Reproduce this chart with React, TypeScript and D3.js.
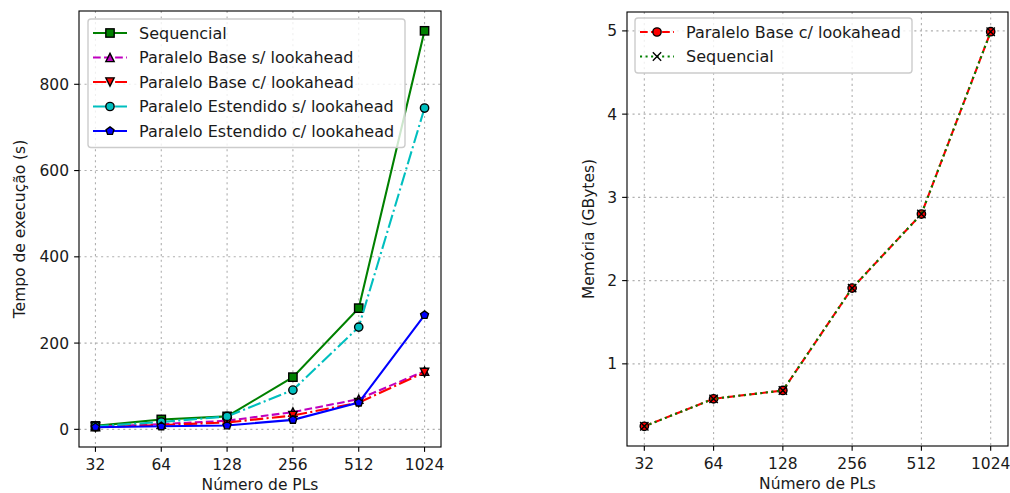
import React from "react";
import * as d3 from "d3";

// número de PLs (eixo x, escala log2)
const pls = [32, 64, 128, 256, 512, 1024];
const plLabels = ["32", "64", "128", "256", "512", "1024"];

// tempo de execução (s)
const tempoSequencial = [8, 23, 30, 121, 281, 924];
const tempoBaseSem = [6, 12, 20, 40, 70, 135];
const tempoBaseCom = [5, 10, 16, 32, 62, 132];
const tempoEstSem = [7, 17, 30, 91, 237, 745];
const tempoEstCom = [5, 7, 9, 22, 62, 265];
const tempoTicks = [0, 200, 400, 600, 800];

// memória (GBytes)
const memBaseCom = [0.25, 0.58, 0.68, 1.91, 2.8, 4.99];
const memSequencial = [0.25, 0.58, 0.68, 1.91, 2.8, 4.99];
const memTicks = [1, 2, 3, 4, 5];

const FONT = "DejaVu Sans, sans-serif";
const FS = 15.5;
const LFS = 16;
const TXT = "#1a1a1a";
const PT = 1.39;

type Series = {
  name: string;
  values: number[];
  color: string;
  dash: string | null;
  marker: string;
  face: string;
};

const DASHED = `${3.7 * 1.5 * PT},${1.6 * 1.5 * PT}`;
const DASHDOT = `${6.4 * 1.5 * PT},${1.6 * 1.5 * PT},${1 * 1.5 * PT},${1.6 * 1.5 * PT}`;
const DOTTED = `${1 * 1.5 * PT},${1.65 * 1.5 * PT}`;

const tempoSeries: Series[] = [
  { name: "Sequencial", values: tempoSequencial, color: "green", dash: null, marker: "square", face: "green" },
  { name: "Paralelo Base s/ lookahead", values: tempoBaseSem, color: "#bf00bf", dash: DASHED, marker: "tri-up", face: "#bf00bf" },
  { name: "Paralelo Base c/ lookahead", values: tempoBaseCom, color: "red", dash: DASHDOT, marker: "tri-down", face: "red" },
  { name: "Paralelo Estendido s/ lookahead", values: tempoEstSem, color: "#00bfbf", dash: DASHDOT, marker: "circle", face: "#00bfbf" },
  { name: "Paralelo Estendido c/ lookahead", values: tempoEstCom, color: "blue", dash: null, marker: "pentagon", face: "blue" },
];

const memSeries: Series[] = [
  { name: "Paralelo Base c/ lookahead", values: memBaseCom, color: "red", dash: DASHED, marker: "circle", face: "red" },
  { name: "Sequencial", values: memSequencial, color: "green", dash: DOTTED, marker: "x", face: "black" },
];

const MS = 6 * PT;

function Marker({ type, x, y, face }: { type: string; x: number; y: number; face: string }) {
  const r = MS / 2;
  const common = { fill: face, stroke: "black", strokeWidth: PT };
  if (type === "square") return <rect x={x - r} y={y - r} width={MS} height={MS} {...common} />;
  if (type === "circle") return <circle cx={x} cy={y} r={r} {...common} />;
  if (type === "tri-up")
    return <path d={`M${x},${y - r}L${x - r},${y + r}L${x + r},${y + r}Z`} {...common} />;
  if (type === "tri-down")
    return <path d={`M${x},${y + r}L${x - r},${y - r}L${x + r},${y - r}Z`} {...common} />;
  if (type === "pentagon") {
    const pts = d3.range(5).map((i) => {
      const a = -Math.PI / 2 + (i * 2 * Math.PI) / 5;
      return [x + r * Math.cos(a), y + r * Math.sin(a)];
    });
    return <path d={"M" + pts.map((p) => p.join(",")).join("L") + "Z"} {...common} />;
  }
  // x
  return (
    <path
      d={`M${x - r},${y - r}L${x + r},${y + r}M${x - r},${y + r}L${x + r},${y - r}`}
      stroke="black"
      strokeWidth={PT}
      fill="none"
    />
  );
}

function Panel(props: {
  left: number;
  right: number;
  top: number;
  bottom: number;
  series: Series[];
  yTicks: number[];
  yLabel: string;
  yLabelX: number;
  legend: { x: number; y: number; w: number };
}) {
  const { left, right, top, bottom, series, yTicks, yLabel, yLabelX, legend } = props;

  const lx = Math.log2(pls[0]);
  const hx = Math.log2(pls[pls.length - 1]);
  const mx = (hx - lx) * 0.05;
  const x = d3.scaleLog().base(2).domain([2 ** (lx - mx), 2 ** (hx + mx)]).range([left, right]);

  const all = series.flatMap((s) => s.values);
  const lo = d3.min(all) as number;
  const hi = d3.max(all) as number;
  const my = (hi - lo) * 0.05;
  const y = d3.scaleLinear().domain([lo - my, hi + my]).range([bottom, top]);

  const line = (vals: number[]) =>
    d3.line<number>().x((_, i) => x(pls[i])).y((d) => y(d))(vals) as string;

  const rowH = 24.5;
  const legH = series.length * rowH + 6;

  return (
    <g>
      {/* grid */}
      {pls.map((p) => (
        <line key={"gx" + p} x1={x(p)} x2={x(p)} y1={top} y2={bottom} stroke="#b0b0b0" strokeWidth={0.8 * PT} strokeDasharray={DOTTED} />
      ))}
      {yTicks.map((t) => (
        <line key={"gy" + t} x1={left} x2={right} y1={y(t)} y2={y(t)} stroke="#b0b0b0" strokeWidth={0.8 * PT} strokeDasharray={DOTTED} />
      ))}

      {/* series */}
      {series.map((s) => (
        <g key={s.name}>
          <path d={line(s.values)} fill="none" stroke={s.color} strokeWidth={1.5 * PT} strokeDasharray={s.dash ?? undefined} />
          {s.values.map((v, i) => (
            <Marker key={i} type={s.marker} x={x(pls[i])} y={y(v)} face={s.face} />
          ))}
        </g>
      ))}

      {/* frame */}
      <rect x={left} y={top} width={right - left} height={bottom - top} fill="none" stroke="black" strokeWidth={0.8 * PT} />

      {/* x ticks */}
      {pls.map((p, i) => (
        <g key={"tx" + p}>
          <line x1={x(p)} x2={x(p)} y1={bottom} y2={bottom + 3.5 * PT} stroke="black" strokeWidth={0.8 * PT} />
          <text x={x(p)} y={bottom + 23} textAnchor="middle" fontSize={FS} fill={TXT}>
            {plLabels[i]}
          </text>
        </g>
      ))}
      {/* y ticks */}
      {yTicks.map((t) => (
        <g key={"ty" + t}>
          <line x1={left} x2={left - 3.5 * PT} y1={y(t)} y2={y(t)} stroke="black" strokeWidth={0.8 * PT} />
          <text x={left - 10} y={y(t)} dy="0.36em" textAnchor="end" fontSize={FS} fill={TXT}>
            {t}
          </text>
        </g>
      ))}

      <text x={(left + right) / 2} y={bottom + 43} textAnchor="middle" fontSize={FS} fill={TXT}>
        Número de PLs
      </text>
      <text
        transform={`translate(${yLabelX},${(top + bottom) / 2}) rotate(-90)`}
        textAnchor="middle"
        dy="0.36em"
        fontSize={FS}
        fill={TXT}
      >
        {yLabel}
      </text>

      {/* legend */}
      <rect x={legend.x} y={legend.y} width={legend.w} height={legH} rx={3} fill="white" fillOpacity={0.8} stroke="#cccccc" strokeWidth={PT} />
      {series.map((s, i) => {
        const cy = legend.y + 14 + i * rowH;
        const hx0 = legend.x + 5;
        const hx1 = legend.x + 39;
        return (
          <g key={"lg" + s.name}>
            <line x1={hx0} x2={hx1} y1={cy} y2={cy} stroke={s.color} strokeWidth={1.5 * PT} strokeDasharray={s.dash ?? undefined} />
            <Marker type={s.marker} x={(hx0 + hx1) / 2} y={cy} face={s.face} />
            <text x={legend.x + 51} y={cy} dy="0.36em" fontSize={LFS} fill={TXT}>
              {s.name}
            </text>
          </g>
        );
      })}
    </g>
  );
}

export default function App() {
  return (
    <svg
      width={1010}
      height={493}
      style={{ position: "absolute", left: 0, top: 0, background: "white", fontFamily: FONT }}
    >
      <Panel
        left={79}
        right={441}
        top={11}
        bottom={447}
        series={tempoSeries}
        yTicks={tempoTicks}
        yLabel="Tempo de execução (s)"
        yLabelX={19}
        legend={{ x: 88, y: 19, w: 317 }}
      />
      <Panel
        left={627}
        right={1008}
        top={12}
        bottom={446}
        series={memSeries}
        yTicks={memTicks}
        yLabel="Memória (GBytes)"
        yLabelX={588}
        legend={{ x: 635, y: 18, w: 277 }}
      />
    </svg>
  );
}
